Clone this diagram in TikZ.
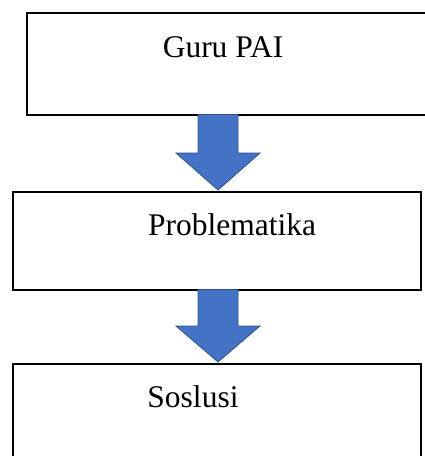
\documentclass[tikz,border=0pt]{standalone}
\usepackage{fontspec}
\setmainfont{Liberation Serif}
\usetikzlibrary{calc}
\definecolor{arrowblue}{HTML}{4472C4}
\definecolor{arrowedge}{HTML}{2F528F}
\begin{document}
\begin{tikzpicture}[x=1pt,y=-1pt,
  box/.style={draw=black, line width=2pt, rectangle, inner sep=0pt},
  lbl/.style={anchor=base, inner sep=0pt, font=\fontsize{31.5}{36}\selectfont},
  bigarrow/.style={fill=arrowblue, draw=arrowedge, line width=0.8pt, line join=miter}]
\useasboundingbox (0,0) rectangle (425,456);
\clip (0,0) rectangle (425,456);
\node[box, minimum width=413pt, minimum height=102pt] (b1) at (233.5,64) {};
\node[box, minimum width=408pt, minimum height=98pt] (b2) at (217,241) {};
\node[box, minimum width=408pt, minimum height=106pt] (b3) at (217,417) {};
\node[lbl] (t1) at (223,57) {Guru PAI};
\node[lbl] (t2) at (232,235) {Problematika};
\node[lbl] (t3) at (193,407) {Soslusi};
\draw[bigarrow] let \p1=(b1.south), \p2=(b2.north) in
  (\x2-19pt,\y1+1.5pt) -- (\x2+21pt,\y1+1.5pt) -- (\x2+21pt,\y2+38pt) -- (\x2+43pt,\y2+38pt)
  -- (\x2+1pt,\y2+1pt) -- (\x2-41pt,\y2+38pt) -- (\x2-19pt,\y2+38pt) -- cycle;
\draw[bigarrow] let \p1=(b2.south), \p2=(b3.north) in
  (\x2-19pt,\y1+1.5pt) -- (\x2+21pt,\y1+1.5pt) -- (\x2+21pt,\y2+37pt) -- (\x2+43pt,\y2+37pt)
  -- (\x2+1pt,\y2+1pt) -- (\x2-41pt,\y2+37pt) -- (\x2-19pt,\y2+37pt) -- cycle;
\end{tikzpicture}
\end{document}
